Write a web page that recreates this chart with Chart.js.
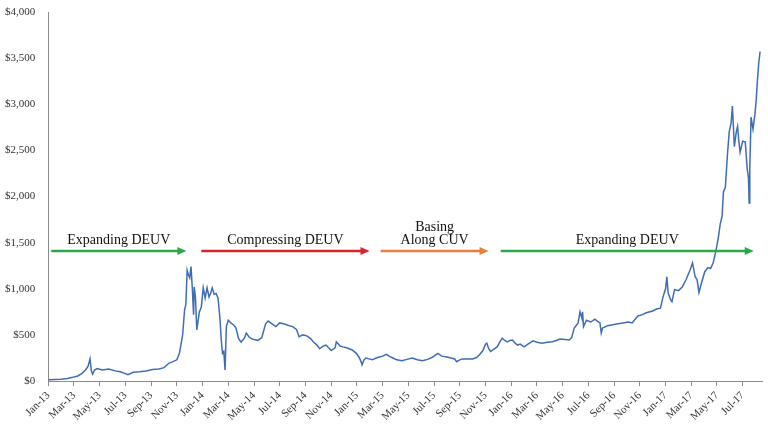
<!DOCTYPE html>
<html>
<head>
<meta charset="utf-8">
<script src="https://cdn.jsdelivr.net/npm/chart.js@4/dist/chart.umd.min.js"></script>
<style>
  html, body { margin: 0; padding: 0; background: #fff; }
  #wrap { width: 768px; height: 433px; }
</style>
</head>
<body>
<div id="wrap"><canvas id="line-chart"></canvas></div>
<script>
// x = months since Jan-13, y = price in USD
const months = [
  0, 0.5, 1.0, 1.5, 1.9, 2.3, 2.6, 2.9, 3.1, 3.25, 3.35, 3.45, 3.6, 3.8, 4.2, 4.7, 5.2, 5.6, 6.0, 6.2,
  6.6, 7.1, 7.6, 8.1, 8.6, 9.0, 9.4, 9.7, 10.0, 10.2, 10.35, 10.45, 10.6, 10.7, 10.8, 10.9, 11.0, 11.1, 11.2, 11.3,
  11.35, 11.45, 11.55, 11.75, 11.9, 12.05, 12.2, 12.35, 12.5, 12.65, 12.75, 12.9, 13.05, 13.2, 13.35, 13.45, 13.55, 13.65, 13.75, 13.85,
  14.0, 14.2, 14.4, 14.6, 14.8, 15.0, 15.1, 15.25, 15.4, 15.6, 15.8, 16.0, 16.3, 16.6, 16.9, 17.1, 17.4, 17.7, 18.0, 18.3,
  18.75, 19.0, 19.3, 19.5, 19.8, 20.1, 20.4, 20.6, 20.9, 21.1, 21.4, 21.6, 21.8, 22.0, 22.3, 22.4, 22.7, 22.9, 23.2, 23.6,
  23.96, 24.2, 24.35, 24.4, 24.55, 24.7, 24.95, 25.2, 25.5, 25.75, 26.0, 26.3, 26.5, 26.8, 27.1, 27.5, 27.9, 28.3, 28.7, 29.1,
  29.5, 29.9, 30.1, 30.3, 30.6, 31.0, 31.3, 31.6, 31.75, 32.0, 32.2, 32.6, 33.0, 33.3, 33.5, 33.8, 34.0, 34.1, 34.25, 34.4,
  34.6, 34.9, 35.1, 35.3, 35.5, 35.7, 35.9, 36.1, 36.3, 36.5, 36.7, 37.0, 37.3, 37.7, 38.0, 38.4, 38.8, 39.2, 39.5, 39.8,
  40.2, 40.5, 40.7, 40.9, 41.2, 41.35, 41.5, 41.55, 41.62, 41.85, 42.0, 42.2, 42.5, 42.7, 42.9, 43.0, 43.1, 43.5, 43.9, 44.3,
  44.7, 45.1, 45.4, 45.7, 45.85, 46.2, 46.5, 47.0, 47.3, 47.6, 47.8, 48.0, 48.1, 48.2, 48.4, 48.5, 48.7, 49.0, 49.3, 49.6,
  49.9, 50.1, 50.3, 50.45, 50.6, 50.8, 51.05, 51.3, 51.5, 51.7, 51.9, 52.1, 52.25, 52.4, 52.5, 52.65, 52.8, 52.95, 53.1, 53.2,
  53.35, 53.5, 53.6, 53.7, 53.8, 54.0, 54.2, 54.35, 54.45, 54.5, 54.55, 54.65, 54.8, 54.95, 55.05, 55.15, 55.25, 55.35
];
const prices = [
  13, 18, 20, 28, 40, 55, 80, 120, 160, 240, 110, 75, 120, 135, 120, 130, 110, 100, 80, 70,
  95, 100, 110, 125, 130, 145, 195, 210, 230, 300, 420, 500, 770, 830, 1200, 1150, 1120, 1240, 1010, 720,
  1020, 900, 555, 750, 800, 1010, 900, 1010, 910, 960, 1010, 940, 950, 900, 680, 450, 300, 320, 120, 590,
  660, 630, 610, 575, 460, 420, 440, 465, 520, 480, 460, 450, 440, 470, 620, 650, 620, 590, 630, 620,
  600, 590, 560, 480, 500, 490, 460, 425, 390, 350, 380, 390, 360, 330, 360, 425, 380, 370, 360, 340,
  300, 250, 200, 175, 230, 250, 240, 230, 250, 260, 270, 290, 270, 250, 230, 220, 235, 250, 230, 220,
  235, 260, 280, 300, 270, 260, 250, 240, 210, 230, 240, 240, 240, 255, 280, 330, 400, 410, 350, 320,
  340, 370, 420, 465, 440, 425, 440, 445, 410, 390, 400, 370, 400, 435, 420, 410, 420, 425, 440, 455,
  450, 445, 470, 575, 630, 750, 680, 750, 590, 660, 650, 640, 670, 650, 630, 520, 575, 600, 610, 620,
  630, 640, 630, 680, 705, 720, 740, 760, 780, 790, 910, 1000, 1130, 955, 880, 860, 990, 980, 1020, 1100,
  1200, 1280, 1130, 1100, 960, 1065, 1185, 1230, 1220, 1280, 1400, 1550, 1700, 1790, 2050, 2100, 2430, 2700, 2800, 2980,
  2540, 2700, 2760, 2600, 2480, 2600, 2590, 2300, 2200, 1930, 2300, 2860, 2730, 2890, 3050, 3270, 3450, 3570
];
const tickLabels = [
  'Jan-13','Mar-13','May-13','Jul-13','Sep-13','Nov-13',
  'Jan-14','Mar-14','May-14','Jul-14','Sep-14','Nov-14',
  'Jan-15','Mar-15','May-15','Jul-15','Sep-15','Nov-15',
  'Jan-16','Mar-16','May-16','Jul-16','Sep-16','Nov-16',
  'Jan-17','Mar-17','May-17','Jul-17'
];

// phase arrows (in month units) and their captions
const phaseText = [['Expanding DEUV'], ['Compressing DEUV'], ['Basing', 'Along CUV'], ['Expanding DEUV']];
const phaseFrom = [0.23, 11.9, 25.84, 35.18];
const phaseTo = [10.74, 24.98, 34.24, 54.86];
const phaseColors = ['#2aa84a', '#d9252e', '#ea7f3c', '#2aa84a'];
const phaseLevel = 1410;

const serif = "'Liberation Serif', 'DejaVu Serif', serif";

const phaseArrows = {
  id: 'phaseArrows',
  afterDatasetsDraw(chart) {
    const ctx = chart.ctx;
    const xs = chart.scales.x, ys = chart.scales.y;
    const y = ys.getPixelForValue(phaseLevel);
    ctx.save();
    phaseText.forEach((lines, i) => {
      const x0 = xs.getPixelForValue(phaseFrom[i]);
      const x1 = xs.getPixelForValue(phaseTo[i]);
      ctx.strokeStyle = phaseColors[i];
      ctx.fillStyle = phaseColors[i];
      ctx.lineWidth = 2.5;
      ctx.beginPath();
      ctx.moveTo(x0, y);
      ctx.lineTo(x1 - 6, y);
      ctx.stroke();
      ctx.beginPath();
      ctx.moveTo(x1, y);
      ctx.lineTo(x1 - 9, y - 4);
      ctx.lineTo(x1 - 9, y + 4);
      ctx.closePath();
      ctx.fill();

      ctx.fillStyle = '#111';
      ctx.font = '14px ' + serif;
      ctx.textAlign = 'center';
      ctx.textBaseline = 'middle';
      const cx = (x0 + x1) / 2;
      lines.forEach((t, j) => {
        ctx.fillText(t, cx, y - 11 - (lines.length - 1 - j) * 13);
      });
    });
    ctx.restore();
  }
};

new Chart(document.getElementById('line-chart'), {
  type: 'line',
  data: {
    datasets: [{
      data: months.map((m, i) => ({ x: m, y: prices[i] })),
      borderColor: '#3f6cb5',
      borderWidth: 1.5,
      pointRadius: 0,
      tension: 0,
      fill: false
    }]
  },
  options: {
    responsive: true,
    maintainAspectRatio: false,
    animation: false,
    layout: { padding: { top: 12, right: 6, left: 0, bottom: 7 } },
    scales: {
      x: {
        type: 'linear',
        min: 0,
        max: 55.5,
        afterBuildTicks: (scale) => {
          scale.ticks = tickLabels.map((_, i) => ({ value: i * 2 }));
        },
        ticks: {
          autoSkip: false,
          maxRotation: 45,
          minRotation: 45,
          color: '#333',
          font: { family: serif, size: 11 },
          callback: (v) => tickLabels[Math.round(v / 2)]
        },
        grid: { drawOnChartArea: false, drawTicks: true, tickLength: 5, color: '#8c8c8c' },
        border: { color: '#8c8c8c', width: 1 }
      },
      y: {
        min: 0,
        max: 4000,
        ticks: {
          stepSize: 500,
          padding: 5,
          color: '#333',
          font: { family: serif, size: 11 },
          callback: (v) => '$' + v.toLocaleString('en-US')
        },
        grid: { display: false },
        border: { color: '#8c8c8c', width: 1 }
      }
    },
    plugins: {
      legend: { display: false },
      tooltip: { enabled: false }
    }
  },
  plugins: [phaseArrows]
});
</script>
</body>
</html>
